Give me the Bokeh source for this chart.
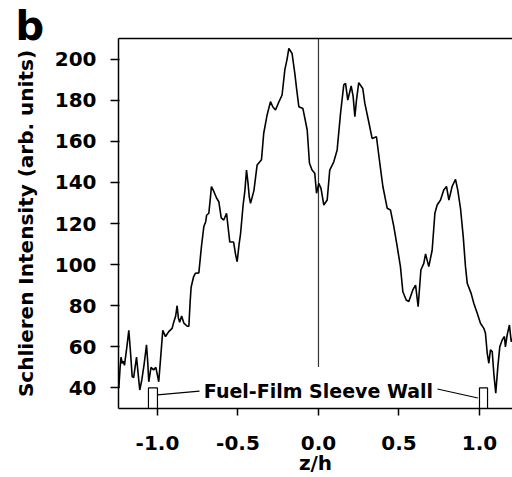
from bokeh.plotting import figure
from bokeh.models import (Range1d, LinearAxis, FixedTicker, PrintfTickFormatter,
                          Label, ColumnDataSource, Title)
from bokeh.embed import file_html
from bokeh.resources import INLINE

# ---- data ----
z_h = [-1.240, -1.232, -1.226, -1.219, -1.212, -1.205, -1.190, -1.178, -1.168, -1.157,
       -1.148, -1.130, -1.120, -1.110, -1.097, -1.082, -1.068, -1.060, -1.054, -1.040,
       -1.024, -1.010, -0.992, -0.980, -0.967, -0.950, -0.930, -0.909, -0.899, -0.887,
       -0.878, -0.870, -0.862, -0.850, -0.836, -0.815, -0.805, -0.797, -0.791, -0.776,
       -0.764, -0.743, -0.727, -0.712, -0.700, -0.695, -0.681, -0.672, -0.665, -0.650,
       -0.633, -0.619, -0.604, -0.588, -0.571, -0.557, -0.551, -0.527, -0.515, -0.505,
       -0.493, -0.484, -0.468, -0.457, -0.447, -0.438, -0.430, -0.422, -0.401, -0.381,
       -0.354, -0.340, -0.319, -0.298, -0.284, -0.267, -0.250, -0.226, -0.209, -0.195,
       -0.184, -0.164, -0.147, -0.135, -0.122, -0.097, -0.070, -0.056, -0.040, -0.023,
       -0.012, 0.002, 0.016, 0.033, 0.054, 0.070, 0.095, 0.116, 0.137, 0.157,
       0.168, 0.182, 0.203, 0.215, 0.226, 0.236, 0.250, 0.275, 0.288, 0.312,
       0.333, 0.360, 0.381, 0.400, 0.427, 0.447, 0.468, 0.489, 0.509, 0.524,
       0.545, 0.561, 0.586, 0.603, 0.619, 0.636, 0.654, 0.665, 0.685, 0.706,
       0.723, 0.737, 0.758, 0.778, 0.795, 0.810, 0.830, 0.851, 0.865, 0.882,
       0.899, 0.913, 0.924, 0.948, 0.965, 0.986, 1.006, 1.027, 1.037, 1.048,
       1.058, 1.068, 1.079, 1.089, 1.101, 1.114, 1.126, 1.141, 1.155, 1.161,
       1.172, 1.186, 1.197, 1.205]
intensity = [40, 50, 55, 52, 53, 51, 60, 68, 58, 45.5,
             45, 55, 47, 39, 44, 52, 61, 52, 43, 50,
             48.8, 50, 43, 55, 68, 65, 67.4, 69, 72, 75,
             80, 74, 72, 75, 71.5, 70, 70, 82, 89, 94,
             95.8, 96, 108.7, 118.5, 121, 124, 125, 132, 138, 135.6,
             132.4, 130.6, 122.7, 121.7, 125, 115.2, 111, 111, 105, 101.4,
             110, 115, 129, 136, 146, 140, 133, 129.8, 136, 148.5,
             151, 163.9, 172.8, 179.3, 176.8, 175.2, 178.4, 182.5, 194.7, 200,
             205.2, 202.7, 193, 185, 176.8, 176, 165.5, 149.3, 146, 144.4,
             134.7, 139.5, 137, 129, 131.4, 146, 150, 155.8, 173.6, 187.4,
             188.2, 180, 186.9, 182, 172, 180, 188.5, 185.7, 178.4, 169.5,
             161.4, 162.2, 149.3, 138, 127.4, 126.6, 118.5, 108.7, 99, 86.8,
             82.8, 82, 87.7, 90, 79.5, 97.4, 100.6, 105.2, 99, 107,
             125, 129, 131.4, 136.3, 138, 131.4, 138, 141.5, 136.3, 127.4,
             113.6, 99, 90.9, 86, 81.1, 76.3, 71.5, 69, 66.6, 56.9,
             52, 58.5, 57.7, 47, 37.4, 50.4, 60, 63.3, 65, 60,
             65.8, 70.6, 62.5, 64]

x_ticks = [-1.0, -0.5, 0.0, 0.5, 1.0]
y_ticks = [40, 60, 80, 100, 120, 140, 160, 180, 200]

wall_left = [-1.056, 1.0]
wall_right = [-1.0, 1.05]
wall_bottom = [30, 30]
wall_top = [40, 40]

FONT = "DejaVu Sans"

p = figure(width=512, height=477, output_backend="svg", toolbar_location=None,
           x_range=Range1d(-1.242, 1.205), y_range=Range1d(30, 210),
           x_axis_location=None, y_axis_location=None,
           min_border_left=118, min_border_right=0, min_border_top=38,
           min_border_bottom=69)
p.outline_line_color = None
p.xgrid.visible = False
p.ygrid.visible = False
p.background_fill_color = "white"
p.border_fill_color = "white"

# panel letter as the plot title, pushed left of the frame
p.title = Title(text="b", align="left", offset=-103, vertical_align="top",
                standoff=-25, text_font=FONT, text_font_style="bold",
                text_font_size="40px", text_color="black")

def style_axis(ax):
    ax.axis_line_color = "black"
    ax.axis_line_width = 1.5
    ax.major_tick_line_color = "black"
    ax.major_tick_line_width = 1.5
    ax.minor_tick_line_color = None
    ax.major_label_text_font = FONT
    ax.major_label_text_font_style = "bold"
    ax.major_label_text_font_size = "20px"
    ax.major_label_text_color = "black"
    ax.axis_label_text_font = FONT
    ax.axis_label_text_font_style = "bold"
    ax.axis_label_text_font_size = "20px"
    ax.axis_label_text_color = "black"

yax = LinearAxis(ticker=FixedTicker(ticks=y_ticks),
                 axis_label="Schlieren Intensity (arb. units)")
style_axis(yax)
yax.major_tick_out = 8
yax.major_tick_in = 1
yax.major_label_standoff = 14
yax.axis_label_standoff = 14
p.add_layout(yax, "left")

xax = LinearAxis(ticker=FixedTicker(ticks=x_ticks),
                 formatter=PrintfTickFormatter(format="%.1f"),
                 axis_label="z/h")
style_axis(xax)
xax.major_tick_out = 7
xax.major_tick_in = 0
xax.major_label_standoff = 20
xax.axis_label_standoff = -2
p.add_layout(xax, "below")

top = LinearAxis(ticker=FixedTicker(ticks=[]))
top.axis_line_color = "black"
top.axis_line_width = 1.5
top.major_tick_line_color = None
top.major_tick_out = 0
top.major_tick_in = 0
top.major_label_standoff = 0
top.minor_tick_line_color = None
top.major_label_text_font_size = "0px"
p.add_layout(top, "above")

# center reference line
p.segment(x0=[0], y0=[50.2], x1=[0], y1=[210], line_color="#333333", line_width=1.2)

# data curve
src = ColumnDataSource(dict(z=z_h, y=intensity))
p.line("z", "y", source=src, line_color="black", line_width=1.6)

# sleeve wall markers
p.quad(left=wall_left, right=wall_right, bottom=wall_bottom, top=wall_top,
       fill_color="white", line_color="black", line_width=1.2)
p.segment(x0=[-1.0, 0.739], y0=[36.6, 39.5], x1=[-0.739, 0.99], y1=[38.5, 35.1],
          line_color="black", line_width=1.2)

p.add_layout(Label(x=0.0, y=38.5, text="Fuel-Film Sleeve Wall", text_align="center",
                   text_baseline="middle", text_font=FONT, text_font_style="bold",
                   text_font_size="19px", text_color="black",
                   background_fill_color="white"))

open("out.html", "w").write(file_html(p, INLINE))
